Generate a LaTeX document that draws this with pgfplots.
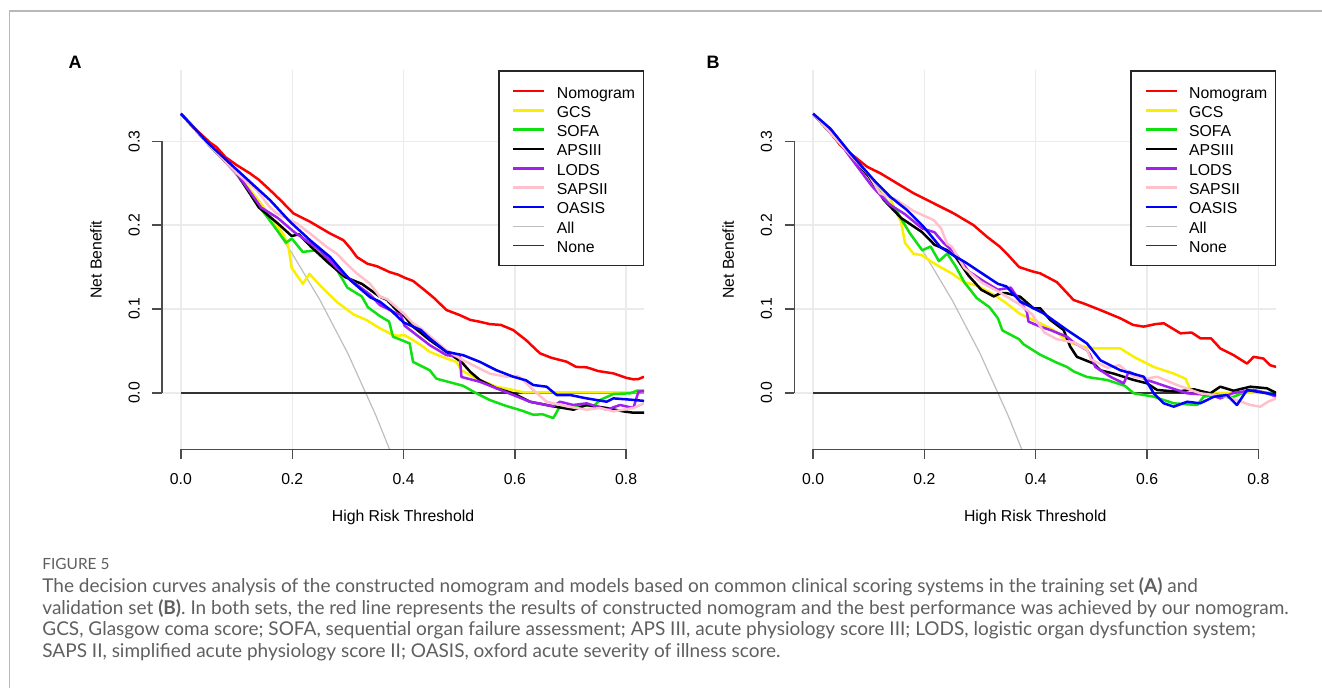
\documentclass[border=0pt]{standalone}
\usepackage{pgfplots}
\pgfplotsset{compat=1.18}
\usepackage{fontspec}
\setmainfont{Liberation Sans}
\newfontfamily\capfont{Lato}

\definecolor{ryellow}{HTML}{F8F000}
\definecolor{rgreen}{HTML}{10E010}
\definecolor{rpurple}{HTML}{A020F0}
\definecolor{rpink}{HTML}{FFC0CB}
\definecolor{rgrey}{HTML}{BEBEBE}
\definecolor{capgray}{HTML}{5F5F5F}

\pgfplotsset{
  dca/.style={
    scale only axis, width=241pt, height=189.45pt,
    xmin=-0.034, xmax=0.832, ymin=-0.0672, ymax=0.3844,
    xtick={0,0.2,0.4,0.6,0.8}, ytick={0,0.1,0.2,0.3},
    axis lines*=left, axis line style={draw=none},
    tick align=outside, major tick length=4.8pt,
    tick style={black!70, line width=0.7pt},
    grid=major, major grid style={black!8, line width=0.7pt},
    clip mode=individual,
    /pgf/number format/assume math mode=true,
    ticklabel style={font=\fontsize{7.9}{9}\selectfont,
      /pgf/number format/fixed, /pgf/number format/fixed zerofill,
      /pgf/number format/precision=1},
    xticklabel style={anchor=north, inner sep=0pt},
    xticklabel shift=7pt,
    yticklabel style={rotate=90, anchor=base, inner sep=0pt},
    yticklabel shift=6.35pt,
    label style={font=\fontsize{7.9}{9}\selectfont},
    xlabel={High Risk Threshold},
    xlabel style={at={(axis description cs:0.5,-0.181)}, anchor=center},
    ylabel={Net Benefit},
    ylabel style={at={(axis description cs:-0.137,0.5)}, anchor=center},
    legend style={at={(1,1)}, anchor=north east, draw=black!85,
      line width=0.7pt, fill=white, inner xsep=0pt, inner ysep=5.2pt,
      row sep=0pt, column sep=0pt, font=\fontsize{7.9}{9}\selectfont,
      nodes={inner sep=0pt, text height=8.3pt, text depth=1.35pt}},
    legend cell align=left,
    legend image code/.code={\path[draw=none] (0pt,0pt) -- (29pt,0pt);
      \draw[##1] (7.2pt,0pt) -- (22.7pt,0pt);},
  },
  curve/.style={line width=1.25pt, line join=round},
}

\begin{document}
\begin{tikzpicture}
\useasboundingbox (0,0) rectangle (661pt,-344pt);
% frame of the figure
\draw[black!28, line width=0.75pt] (4.65pt,-344pt) -- (4.65pt,-5.5pt) -- (661pt,-5.5pt);

% ---------------- panel A (training set)
\node[font=\bfseries\fontsize{9}{10}\selectfont] at (37.5pt,-31pt) {A};
\begin{axis}[dca, at={(81pt,-224.65pt)}, anchor=south west]
\addplot[rgrey, line width=0.6pt, forget plot] coordinates {
 (0,0.3328) (0.05,0.2977) (0.1,0.2587) (0.15,0.2151) (0.2,0.1660)
 (0.25,0.1104) (0.3,0.0469) (0.35,-0.0265) (0.375,-0.0675) (0.38,-0.0761)};
\addplot[black!80, line width=0.7pt, forget plot] coordinates {(0,0) (0.832,0)};

% Nomogram
\addplot[red, curve] coordinates {
 (0,0.3328) (0.03,0.312) (0.053,0.298) (0.064,0.293) (0.08,0.281) (0.100,0.2716)
 (0.124,0.2617) (0.140,0.254) (0.160,0.2418) (0.180,0.229) (0.202,0.214) (0.232,0.204)
 (0.250,0.197) (0.268,0.190) (0.292,0.182) (0.305,0.172) (0.316,0.162) (0.335,0.154)
 (0.352,0.151) (0.375,0.144) (0.39,0.141) (0.403,0.137) (0.417,0.1335) (0.435,0.124)
 (0.455,0.113) (0.477,0.0988) (0.50,0.093) (0.520,0.087) (0.537,0.0848) (0.555,0.082)
 (0.575,0.081) (0.597,0.0749) (0.62,0.063) (0.645,0.0472) (0.665,0.042) (0.693,0.0372)
 (0.71,0.031) (0.729,0.0305) (0.75,0.026) (0.777,0.0233) (0.80,0.018) (0.813,0.0162)
 (0.822,0.0165) (0.832,0.0193)};
\addlegendentry{\makebox[43.2pt][l]{Nomogram}}
% GCS
\addplot[ryellow, curve] coordinates {
 (0,0.3328) (0.05,0.296) (0.1,0.263) (0.15,0.220) (0.185,0.188) (0.193,0.1745)
 (0.199,0.149) (0.219,0.130) (0.231,0.142) (0.250,0.128) (0.280,0.1085) (0.310,0.0936)
 (0.333,0.087) (0.3575,0.077) (0.378,0.070) (0.389,0.068) (0.401,0.069) (0.417,0.063)
 (0.431,0.057) (0.447,0.049) (0.462,0.045) (0.477,0.041) (0.495,0.037) (0.504,0.027)
 (0.52,0.021) (0.537,0.0154) (0.567,0.0074) (0.597,0.0035) (0.615,0.0007) (0.832,0.0007)};
\addlegendentry{GCS}
% SOFA
\addplot[rgreen, curve] coordinates {
 (0,0.3328) (0.05,0.296) (0.1,0.262) (0.140,0.223) (0.166,0.200) (0.189,0.179)
 (0.199,0.184) (0.219,0.168) (0.242,0.170) (0.257,0.162) (0.280,0.147) (0.299,0.1255)
 (0.325,0.115) (0.336,0.102) (0.3575,0.0916) (0.374,0.085) (0.381,0.067) (0.401,0.0617)
 (0.411,0.059) (0.417,0.037) (0.447,0.027) (0.459,0.017) (0.507,0.0085) (0.531,-0.0005)
 (0.555,-0.0085) (0.582,-0.015) (0.612,-0.021) (0.633,-0.026) (0.650,-0.0255) (0.669,-0.030)
 (0.681,-0.016) (0.703,-0.017) (0.717,-0.0144) (0.741,-0.016) (0.753,-0.0085)
 (0.777,-0.0013) (0.807,-0.0005) (0.819,0.0026) (0.832,0.0026)};
\addlegendentry{SOFA}
% APSIII
\addplot[black, curve] coordinates {
 (0,0.3328) (0.05,0.296) (0.1,0.262) (0.140,0.221) (0.174,0.202) (0.199,0.187)
 (0.212,0.189) (0.234,0.174) (0.265,0.155) (0.295,0.138) (0.325,0.130) (0.3575,0.1146)
 (0.370,0.111) (0.3875,0.0988) (0.401,0.092) (0.417,0.079) (0.447,0.063) (0.477,0.049)
 (0.504,0.037) (0.52,0.025) (0.537,0.0154) (0.567,0.0055) (0.597,-0.0005) (0.627,-0.0105)
 (0.669,-0.016) (0.705,-0.020) (0.729,-0.0144) (0.765,-0.018) (0.795,-0.022)
 (0.813,-0.0236) (0.832,-0.0236)};
\addlegendentry{APSIII}
% LODS
\addplot[rpurple, curve] coordinates {
 (0,0.3328) (0.05,0.296) (0.1,0.262) (0.121,0.2426) (0.144,0.221) (0.174,0.2085)
 (0.204,0.1915) (0.250,0.170) (0.280,0.149) (0.310,0.132) (0.340,0.117) (0.3575,0.1047)
 (0.3875,0.0948) (0.395,0.093) (0.402,0.080) (0.447,0.057) (0.477,0.045) (0.501,0.043)
 (0.504,0.019) (0.537,0.0133) (0.567,0.0055) (0.597,-0.0025) (0.627,-0.0105) (0.669,-0.016)
 (0.681,-0.0105) (0.705,-0.0144) (0.729,-0.0124) (0.765,-0.020) (0.789,-0.0144)
 (0.813,-0.018) (0.822,0.0015) (0.832,0.002)};
\addlegendentry{LODS}
% SAPSII
\addplot[rpink, curve] coordinates {
 (0,0.3328) (0.05,0.296) (0.1,0.262) (0.136,0.242) (0.159,0.222) (0.172,0.214)
 (0.208,0.202) (0.234,0.189) (0.262,0.174) (0.280,0.166) (0.302,0.151) (0.316,0.1425)
 (0.340,0.130) (0.3575,0.1146) (0.370,0.112) (0.401,0.094) (0.417,0.083) (0.431,0.077)
 (0.461,0.060) (0.477,0.051) (0.507,0.039) (0.522,0.034) (0.555,0.023) (0.585,0.0193)
 (0.605,0.020) (0.615,0.0154) (0.633,0.0035) (0.657,-0.0105) (0.693,-0.016) (0.729,-0.020)
 (0.753,-0.018) (0.777,-0.022) (0.813,-0.018) (0.832,-0.0124)};
\addlegendentry{SAPSII}
% OASIS
\addplot[blue, curve] coordinates {
 (0,0.3328) (0.05,0.297) (0.088,0.2736) (0.124,0.2516) (0.160,0.2298) (0.196,0.204)
 (0.232,0.182) (0.268,0.162) (0.304,0.1345) (0.340,0.114) (0.3575,0.1087) (0.378,0.098)
 (0.400,0.084) (0.431,0.075) (0.447,0.065) (0.477,0.049) (0.507,0.045) (0.537,0.037)
 (0.567,0.027) (0.597,0.0193) (0.620,0.015) (0.633,0.0094) (0.657,0.0074) (0.675,-0.0025)
 (0.699,-0.0025) (0.729,-0.0065) (0.765,-0.0105) (0.777,-0.0065) (0.807,-0.008)
 (0.832,-0.0095)};
\addlegendentry{OASIS}
\addlegendimage{rgrey, line width=0.6pt}
\addlegendentry{All}
\addlegendimage{black!80, line width=0.7pt}
\addlegendentry{None}
% R style axis lines
\draw[black!70, line width=0.7pt] (axis cs:0,-0.0672) -- (axis cs:0.8,-0.0672);
\draw[black!70, line width=0.7pt] (axis cs:-0.034,0) -- (axis cs:-0.034,0.3);
\end{axis}

% ---------------- panel B (validation set)
\node[font=\bfseries\fontsize{9}{10}\selectfont] at (356.5pt,-31pt) {B};
\begin{axis}[dca, at={(397.1pt,-224.65pt)}, anchor=south west]
\addplot[rgrey, line width=0.6pt, forget plot] coordinates {
 (0,0.3328) (0.05,0.2977) (0.1,0.2587) (0.15,0.2151) (0.2,0.1660)
 (0.25,0.1104) (0.3,0.0469) (0.35,-0.0265) (0.375,-0.0675) (0.38,-0.0761)};
\addplot[black!80, line width=0.7pt, forget plot] coordinates {(0,0) (0.832,0)};

% Nomogram
\addplot[red, curve] coordinates {
 (0,0.3328) (0.031,0.311) (0.049,0.295) (0.067,0.2855) (0.097,0.2695) (0.121,0.2617)
 (0.151,0.2497) (0.181,0.2378) (0.2165,0.226) (0.2525,0.214) (0.288,0.200) (0.3125,0.186)
 (0.336,0.174) (0.348,0.166) (0.370,0.150) (0.393,0.145) (0.408,0.1425) (0.438,0.132)
 (0.468,0.1107) (0.4845,0.107) (0.516,0.0988) (0.552,0.0889) (0.575,0.081) (0.594,0.079)
 (0.615,0.082) (0.630,0.083) (0.660,0.071) (0.68,0.072) (0.696,0.065) (0.715,0.065)
 (0.7315,0.053) (0.7555,0.045) (0.7795,0.035) (0.7915,0.043) (0.809,0.041) (0.821,0.033)
 (0.832,0.031)};
\addlegendentry{\makebox[43.2pt][l]{Nomogram}}
% GCS
\addplot[ryellow, curve] coordinates {
 (0,0.3328) (0.05,0.296) (0.1,0.258) (0.138,0.232) (0.158,0.204) (0.165,0.179)
 (0.180,0.166) (0.196,0.164) (0.211,0.157) (0.226,0.151) (0.249,0.1425) (0.2715,0.132)
 (0.294,0.128) (0.3245,0.117) (0.345,0.108) (0.372,0.094) (0.402,0.085) (0.432,0.075)
 (0.461,0.060) (0.486,0.055) (0.510,0.053) (0.540,0.053) (0.552,0.053) (0.576,0.043)
 (0.612,0.031) (0.648,0.023) (0.669,0.017) (0.678,0.0035) (0.70,0.0) (0.832,0.0)};
\addlegendentry{GCS}
% SOFA
\addplot[rgreen, curve] coordinates {
 (0,0.3328) (0.05,0.296) (0.1,0.258) (0.127,0.232) (0.150,0.217) (0.173,0.191)
 (0.196,0.170) (0.211,0.1745) (0.226,0.157) (0.241,0.166) (0.256,0.151) (0.2715,0.132)
 (0.294,0.113) (0.317,0.102) (0.332,0.089) (0.340,0.0745) (0.370,0.064) (0.378,0.058)
 (0.408,0.0455) (0.438,0.036) (0.456,0.031) (0.4685,0.0255) (0.492,0.019) (0.528,0.0154)
 (0.560,0.0085) (0.576,-0.0005) (0.612,-0.0045) (0.648,-0.0124) (0.690,-0.0144)
 (0.7015,-0.0045) (0.726,-0.002) (0.75,-0.006) (0.7855,0.0035) (0.817,0.0) (0.832,0.0)};
\addlegendentry{SOFA}
% APSIII
\addplot[black, curve] coordinates {
 (0,0.3328) (0.05,0.296) (0.1,0.258) (0.127,0.230) (0.158,0.2085) (0.196,0.1915)
 (0.218,0.1766) (0.241,0.170) (0.256,0.162) (0.279,0.140) (0.302,0.123) (0.3245,0.115)
 (0.336,0.1187) (0.347,0.119) (0.372,0.1146) (0.396,0.1008) (0.408,0.1008) (0.426,0.087)
 (0.450,0.075) (0.462,0.055) (0.474,0.043) (0.504,0.035) (0.516,0.027) (0.540,0.023)
 (0.576,0.0154) (0.600,0.0114) (0.618,0.0035) (0.654,0.0015) (0.684,0.0043)
 (0.7135,-0.0005) (0.7315,0.0074) (0.7555,0.0026) (0.7855,0.0074) (0.8155,0.0055)
 (0.832,0.0)};
\addlegendentry{APSIII}
% LODS
\addplot[rpurple, curve] coordinates {
 (0,0.3328) (0.05,0.296) (0.105,0.247) (0.135,0.2255) (0.165,0.213) (0.196,0.196)
 (0.218,0.1915) (0.234,0.179) (0.256,0.166) (0.279,0.145) (0.309,0.132) (0.332,0.123)
 (0.355,0.1255) (0.370,0.111) (0.384,0.0968) (0.387,0.085) (0.408,0.079) (0.426,0.075)
 (0.456,0.067) (0.4685,0.060) (0.492,0.051) (0.498,0.045) (0.507,0.031) (0.534,0.0193)
 (0.558,0.0114) (0.567,0.0253) (0.600,0.0154) (0.636,0.0074) (0.672,-0.0005)
 (0.715,-0.0025) (0.7315,-0.0065) (0.7555,0.0) (0.7915,0.0035) (0.8155,-0.0005)
 (0.832,-0.0045)};
\addlegendentry{LODS}
% SAPSII
\addplot[rpink, curve] coordinates {
 (0,0.3328) (0.05,0.296) (0.1,0.26) (0.120,0.238) (0.150,0.230) (0.180,0.217)
 (0.2165,0.206) (0.230,0.196) (0.2405,0.178) (0.249,0.1745) (0.2715,0.149) (0.302,0.132)
 (0.332,0.121) (0.370,0.106) (0.393,0.094) (0.4155,0.072) (0.438,0.064) (0.4685,0.060)
 (0.492,0.0514) (0.499,0.040) (0.529,0.030) (0.550,0.033) (0.576,0.0193) (0.598,0.017)
 (0.618,0.0193) (0.654,0.0094) (0.6955,-0.0005) (0.7435,-0.0045) (0.7855,-0.0144)
 (0.8035,-0.0164) (0.817,-0.0106) (0.832,-0.0065)};
\addlegendentry{SAPSII}
% OASIS
\addplot[blue, curve] coordinates {
 (0,0.3328) (0.031,0.315) (0.067,0.2855) (0.109,0.2537) (0.1385,0.2338) (0.1685,0.218)
 (0.1985,0.198) (0.2285,0.174) (0.2465,0.1663) (0.2765,0.1544) (0.3125,0.1385)
 (0.332,0.130) (0.347,0.127) (0.372,0.109) (0.414,0.0948) (0.456,0.075) (0.492,0.059)
 (0.516,0.039) (0.552,0.027) (0.594,0.0193) (0.612,-0.0005) (0.630,-0.0124)
 (0.648,-0.0164) (0.672,-0.0105) (0.6955,-0.0124) (0.72,-0.0045) (0.7435,-0.0025)
 (0.7615,-0.0144) (0.7795,0.0035) (0.8155,-0.0005) (0.832,-0.002)};
\addlegendentry{OASIS}
\addlegendimage{rgrey, line width=0.6pt}
\addlegendentry{All}
\addlegendimage{black!80, line width=0.7pt}
\addlegendentry{None}
\draw[black!70, line width=0.7pt] (axis cs:0,-0.0672) -- (axis cs:0.8,-0.0672);
\draw[black!70, line width=0.7pt] (axis cs:-0.034,0) -- (axis cs:-0.034,0.3);
\end{axis}

% ---------------- caption
\begin{scope}[every node/.style={anchor=base west, inner sep=0pt, text=capgray,
    font=\capfont\fontsize{9.5}{11}\selectfont}]
\node[font=\capfont\fontsize{7.7}{9}\selectfont] at (21pt,-285pt) {FIGURE 5};
\node at (21pt,-296.5pt) {The decision curves analysis of the constructed nomogram and models based on common clinical scoring systems in the training set \textbf{(A)} and};
\node at (21pt,-307.25pt) {validation set \textbf{(B)}. In both sets, the red line represents the results of constructed nomogram and the best performance was achieved by our nomogram.};
\node at (21pt,-318pt) {GCS, Glasgow coma score; SOFA, sequential organ failure assessment; APS III, acute physiology score III; LODS, logistic organ dysfunction system;};
\node at (21pt,-328.75pt) {SAPS II, simplified acute physiology score II; OASIS, oxford acute severity of illness score.};
\end{scope}
\end{tikzpicture}
\end{document}
